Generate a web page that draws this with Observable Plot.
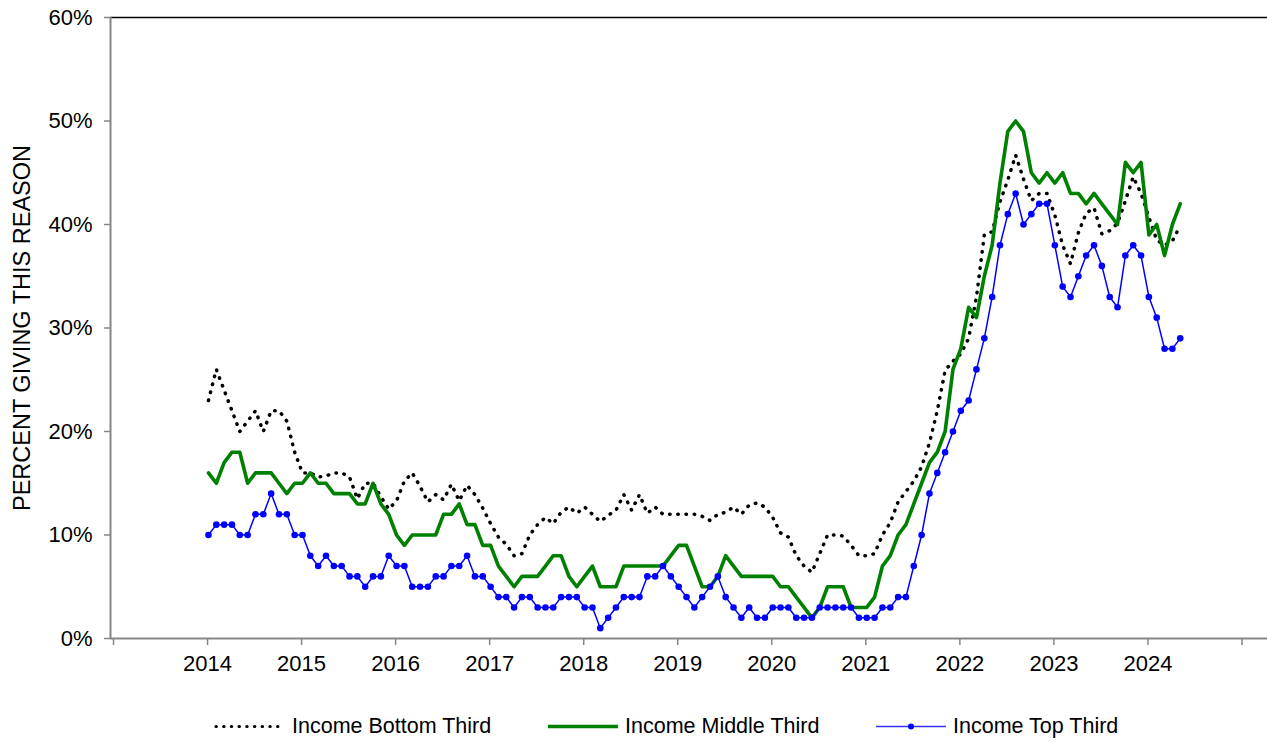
<!DOCTYPE html>
<html>
<head>
<meta charset="utf-8">
<script src="https://cdn.jsdelivr.net/npm/d3@7"></script>
<script src="https://cdn.jsdelivr.net/npm/@observablehq/plot@0.6"></script>
<style>
  html, body { margin: 0; padding: 0; background: #fff; }
  body { font-family: "Liberation Sans", Arial, Helvetica, sans-serif; width: 1267px; }
  #legend { position: relative; width: 1267px; height: 52px; font-size: 21.5px; color: #000; }
  #legend .item { position: absolute; top: 36px; transform: translateY(-50%); display: flex; align-items: center; white-space: nowrap; }
  #legend svg { display: block; margin-right: 5px; }
</style>
</head>
<body>
<div id="chart"></div>
<div id="legend"></div>
<script>
// ---- data (monthly, Jan 2014 – May 2024) ----
const startYear = 2014;

const bottomThird = [
  23, 26, 24, 22, 20, 21, 22, 20, 22, 22, 21, 18,
  16, 16, 15.6, 15.7, 16, 16, 15.6, 13.5, 15, 15, 13.7, 12.5,
  13.3, 15.2, 16, 14.7, 13.2, 13.9, 13.4, 14.9, 13.3, 14.8, 13.9, 12.6,
  11.1, 9.8, 9.1, 8, 8.2, 10, 11, 11.7, 11.1, 12.2, 12.7, 12.1,
  12.7, 12, 11.3, 11.9, 12.4, 13.9, 12.4, 13.9, 12.1, 12.7, 12, 12,
  12, 12, 12, 11.8, 11.4, 12, 12.2, 12.7, 12, 12.9, 13.1, 12.7,
  11.7, 10.2, 9.8, 8, 7, 6.4, 8.2, 10, 10, 9.9, 9, 8,
  8, 8.2, 10, 11.2, 13.2, 14.2, 15.2, 16.6, 18.9, 22, 25.9, 26.8,
  27.5, 29, 33, 39, 39.3, 42.2, 44.3, 46.7, 44.4, 42.3, 43, 43,
  40.9, 38, 36.2, 39.2, 41.1, 41.6, 39.1, 39.4, 40.1, 42.3, 44.6, 43,
  40.7, 38.5, 38, 38.4, 39.9
];

const middleThird = [
  16, 15, 17, 18, 18, 15, 16, 16, 16, 15, 14, 15,
  15, 16, 15, 15, 14, 14, 14, 13, 13, 15, 13, 12,
  10, 9, 10, 10, 10, 10, 12, 12, 13, 11, 11, 9,
  9, 7, 6, 5, 6, 6, 6, 7, 8, 8, 6, 5,
  6, 7, 5, 5, 5, 7, 7, 7, 7, 7, 7, 8,
  9, 9, 7, 5, 5, 6, 8, 7, 6, 6, 6, 6,
  6, 5, 5, 4, 3, 2, 3, 5, 5, 5, 3, 3,
  3, 4, 7, 8, 10, 11, 13, 15, 17, 18, 20, 26,
  28, 32, 31, 35, 38, 44, 49, 50, 49, 45, 44, 45,
  44, 45, 43, 43, 42, 43, 42, 41, 40, 46, 45, 46,
  39, 40, 37, 40, 42
];

const topThird = [
  10, 11, 11, 11, 10, 10, 12, 12, 14, 12, 12, 10,
  10, 8, 7, 8, 7, 7, 6, 6, 5, 6, 6, 8,
  7, 7, 5, 5, 5, 6, 6, 7, 7, 8, 6, 6,
  5, 4, 4, 3, 4, 4, 3, 3, 3, 4, 4, 4,
  3, 3, 1, 2, 3, 4, 4, 4, 6, 6, 7, 6,
  5, 4, 3, 4, 5, 6, 4, 3, 2, 3, 2, 2,
  3, 3, 3, 2, 2, 2, 3, 3, 3, 3, 3, 2,
  2, 2, 3, 3, 4, 4, 7, 10, 14, 16, 18, 20,
  22, 23, 26, 29, 33, 38, 41, 43, 40, 41, 42, 42,
  38, 34, 33, 35, 37, 38, 36, 33, 32, 37, 38, 37,
  33, 31, 28, 28, 29
];

const seriesNames = ["Income Bottom Third", "Income Middle Third", "Income Top Third"];
const yearTicks  = [2013, 2014, 2015, 2016, 2017, 2018, 2019, 2020, 2021, 2022, 2023, 2024, 2025];
const yearLabels = ["", "2014", "2015", "2016", "2017", "2018", "2019", "2020", "2021", "2022", "2023", "2024", ""];
const percentTicks = [0, 10, 20, 30, 40, 50, 60];
const yTitle = "PERCENT GIVING THIS REASON";

// ---- build rows ----
const toRows = (arr, name) => arr.map((v, i) => ({ date: startYear + (i + 0.5) / 12, value: v, series: name }));
const bottomRows = toRows(bottomThird, seriesNames[0]);
const middleRows = toRows(middleThird, seriesNames[1]);
const topRows = toRows(topThird, seriesNames[2]);

const FONT = '"Liberation Sans", Arial, Helvetica, sans-serif';
const AXIS_GRAY = "#868686";
const GREEN = "#008000";
const BLUE = "#0000ff";

const chart = Plot.plot({
  width: 1267,
  height: 690,
  marginTop: 17,
  marginBottom: 52,
  marginLeft: 110,
  marginRight: 0,
  style: { fontFamily: FONT, fontSize: "22px", color: "#000", background: "#fff", overflow: "visible" },
  x: { type: "linear", domain: [2013, 2025.303], label: null },
  y: { domain: [0, 60], label: null },
  marks: [
    Plot.ruleY([60], { stroke: "#000", strokeWidth: 1.4 }),
    Plot.ruleX([2013], { stroke: AXIS_GRAY, strokeWidth: 2 }),
    Plot.ruleY([0], { stroke: AXIS_GRAY, strokeWidth: 2 }),
    Plot.axisY({
      ticks: percentTicks, tickSize: 6, tickPadding: 12, stroke: AXIS_GRAY, strokeWidth: 1.5,
      tickFormat: d => d + "%", fill: "#000", fontSize: 22, label: null
    }),
    Plot.axisX({
      ticks: yearTicks, tickSize: 7, tickPadding: 10, stroke: AXIS_GRAY, strokeWidth: 1.5,
      tickFormat: d => yearLabels[yearTicks.indexOf(d)], fill: "#000", fontSize: 22, dx: 3, label: null
    }),
    Plot.text([yTitle], {
      frameAnchor: "left", rotate: -90, dx: -88, fontSize: 23.5, fill: "#000",
      textAnchor: "middle", lineAnchor: "middle", text: d => d
    }),
    Plot.line(bottomRows, {
      x: "date", y: "value", stroke: "#000", strokeWidth: 3.5,
      strokeDasharray: "0.5 7.7", strokeLinecap: "round", curve: "linear"
    }),
    Plot.line(middleRows, { x: "date", y: "value", stroke: GREEN, strokeWidth: 3.6, curve: "linear" }),
    Plot.line(topRows, { x: "date", y: "value", stroke: BLUE, strokeWidth: 1.5, curve: "linear" }),
    Plot.dot(topRows, { x: "date", y: "value", r: 3.3, fill: BLUE, stroke: "none" })
  ]
});
document.getElementById("chart").appendChild(chart);

// ---- legend (HTML below the SVG) ----
const legend = d3.select("#legend");
const legendItems = [
  { name: seriesNames[0], left: 213, kind: "dotted" },
  { name: seriesNames[1], left: 546, kind: "solid" },
  { name: seriesNames[2], left: 874, kind: "marker" }
];
legendItems.forEach(it => {
  const div = legend.append("div").attr("class", "item").style("left", it.left + "px");
  const sw = div.append("svg").attr("width", 74).attr("height", 12);
  if (it.kind === "dotted") {
    sw.append("line").attr("x1", 3).attr("x2", 72).attr("y1", 6).attr("y2", 6)
      .attr("stroke", "#000").attr("stroke-width", 3.2).attr("stroke-linecap", "round")
      .attr("stroke-dasharray", "0.3 7.4");
  } else if (it.kind === "solid") {
    sw.append("line").attr("x1", 2).attr("x2", 72).attr("y1", 6).attr("y2", 6)
      .attr("stroke", GREEN).attr("stroke-width", 3.6);
  } else {
    sw.append("line").attr("x1", 2).attr("x2", 72).attr("y1", 6).attr("y2", 6)
      .attr("stroke", BLUE).attr("stroke-width", 1.5).attr("stroke-opacity", 0.8);
    sw.append("circle").attr("cx", 37).attr("cy", 6).attr("r", 3).attr("fill", BLUE);
  }
  div.append("span").text(it.name);
});
</script>
</body>
</html>
